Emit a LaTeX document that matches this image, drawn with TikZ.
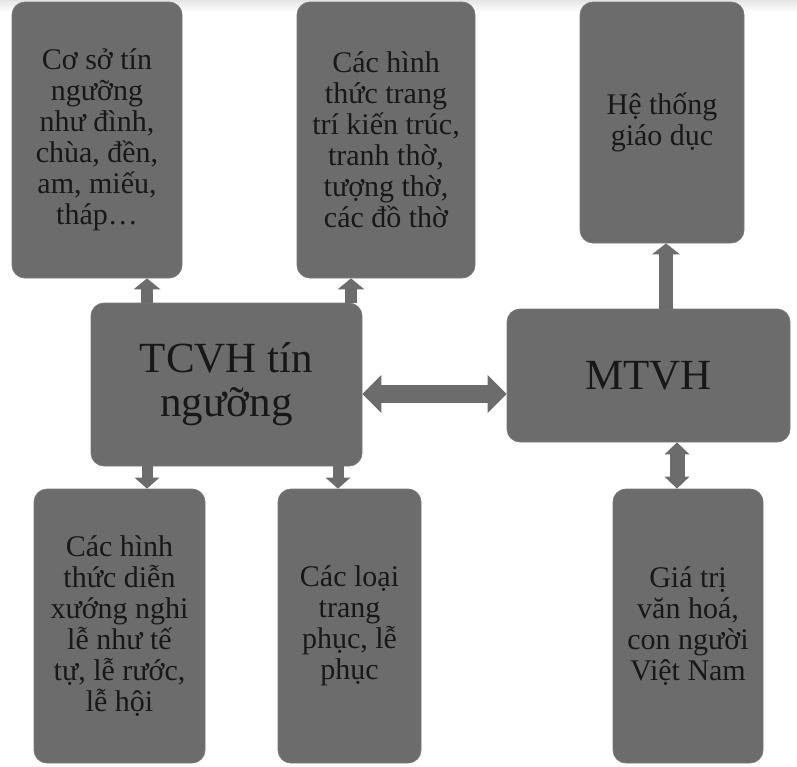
\documentclass[tikz,border=0pt]{standalone}
\usepackage{fontspec}
\setmainfont{Liberation Serif}
\usetikzlibrary{arrows.meta}
\definecolor{boxgray}{RGB}{108,108,108}
\definecolor{edgegray}{RGB}{120,120,120}
\definecolor{txt}{RGB}{24,24,24}
\tikzset{
  box/.style={rectangle, rounded corners=13pt, fill=boxgray, draw=edgegray, line width=0.8pt,
    align=center, text=txt, font=\fontsize{30}{31}\selectfont, inner sep=0pt},
  bigbox/.style={box, font=\fontsize{43}{44}\selectfont},
  blkarrow/.style={draw=boxgray, line cap=butt},
}
\begin{document}
\begin{tikzpicture}[x=1pt,y=-1pt]
\useasboundingbox (0,0) rectangle (797,766);
\shade[top color=black!10, bottom color=white] (0,0) rectangle (797,12);
% boxes
\node[box, minimum width=170pt, minimum height=276pt] (tl) at (97,140)
  {Cơ sở tín\\ngưỡng\\như đình,\\chùa, đền,\\am, miếu,\\tháp…};
\node[box, minimum width=178pt, minimum height=276pt] (tm) at (386,140)
  {Các hình\\thức trang\\trí kiến trúc,\\tranh thờ,\\tượng thờ,\\các đồ thờ};
\node[box, minimum width=164pt, minimum height=241pt] (tr) at (662,122.5)
  {Hệ thống\\giáo dục};
\node[bigbox, minimum width=271pt, minimum height=163pt] (tcvh) at (226.5,384.5)
  {TCVH tín\\ngưỡng};
\node[bigbox, minimum width=283pt, minimum height=133pt] (mtvh) at (648.5,375.5)
  {MTVH};
\node[box, minimum width=171pt, minimum height=274pt] (bl) at (119.5,626)
  {Các hình\\thức diễn\\xướng nghi\\lễ như tế\\tự, lễ rước,\\lễ hội};
\node[box, minimum width=143pt, minimum height=274pt] (bm) at (349.5,626)
  {Các loại\\trang\\phục, lễ\\phục};
\node[box, minimum width=150pt, minimum height=274pt] (br) at (688,626)
  {Giá trị\\văn hoá,\\con người\\Việt Nam};
% connector positions
\coordinate (xa) at (147,0);
\coordinate (xb) at (351,0);
\coordinate (xc) at (338,0);
\coordinate (xd) at (666,0);
\coordinate (xe) at (677,0);
\coordinate (yh) at (0,394);
% connectors
\draw[blkarrow, line width=12pt, -{Triangle[width=27pt,length=11pt,line width=0pt]}]
  (tcvh.north -| xa) -- (tl.south -| xa);
\draw[blkarrow, line width=12pt, -{Triangle[width=27pt,length=11pt,line width=0pt]}]
  (tcvh.north -| xb) -- (tm.south -| xb);
\draw[blkarrow, line width=11pt, -{Triangle[width=25pt,length=11pt,line width=0pt]}]
  (tcvh.south -| xa) -- (bl.north -| xa);
\draw[blkarrow, line width=11pt, -{Triangle[width=25pt,length=11pt,line width=0pt]}]
  (tcvh.south -| xc) -- (bm.north -| xc);
\draw[blkarrow, line width=14pt, -{Triangle[width=28pt,length=11pt,line width=0pt]}]
  (mtvh.north -| xd) -- (tr.south -| xd);
\draw[blkarrow, line width=15pt, {Triangle[width=25pt,length=12pt,line width=0pt]}-{Triangle[width=25pt,length=12pt,line width=0pt]}]
  (mtvh.south -| xe) -- (br.north -| xe);
\draw[blkarrow, line width=18pt, {Triangle[width=38pt,length=19pt,line width=0pt]}-{Triangle[width=38pt,length=19pt,line width=0pt]}]
  (tcvh.east |- yh) -- (mtvh.west |- yh);
\end{tikzpicture}
\end{document}
